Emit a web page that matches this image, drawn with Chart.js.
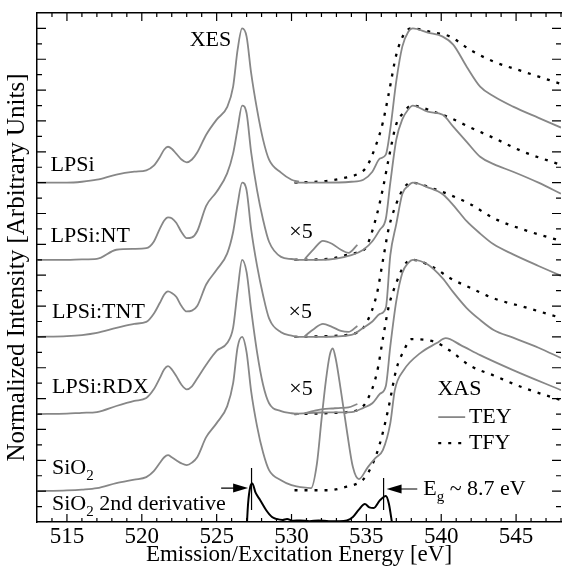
<!DOCTYPE html>
<html>
<head>
<meta charset="utf-8">
<script src="https://cdn.jsdelivr.net/npm/chart.js@4.4.1/dist/chart.umd.min.js"></script>
<style>
  html, body { margin: 0; padding: 0; background: #fff; }
  canvas { display: block; }
</style>
</head>
<body>
<canvas id="spectra" width="562" height="574"></canvas>
<script>
// samples, stacked from top to bottom, each shifted by 5 units
var samples = ['LPSi', 'LPSi:NT', 'LPSi:TNT', 'LPSi:RDX', 'SiO2'];
var offsets = [22, 17, 12, 7, 2];

// XES (emission), normalized so the main peak is 10
var xesEnergy = [513, 515, 516, 517, 518.3, 519.5, 520.3, 520.8, 521.2, 521.5, 521.75, 522.0, 522.3,
                 522.65, 523.0, 523.35, 523.7, 524.3, 525.0, 525.7, 526.1, 526.4, 526.7, 527.0,
                 527.3, 527.7, 528.1, 528.5, 529.3, 530.0, 530.5];
var xesLPSi = [0, 0, 0.06, 0.19, 0.52, 0.71, 0.8, 1.1, 1.65, 2.15, 2.33, 2.2, 1.88,
               1.5, 1.32, 1.5, 1.95, 3.11, 4.09, 4.9, 6.23, 8.62, 10, 9.47,
               7.13, 4.73, 2.79, 1.49, 0.65, 0.19, 0.06];
var xesNT = [0, 0, 0.03, 0.06, 0.65, 0.71, 0.75, 1.17, 2.01, 2.55, 2.75, 2.7, 2.4,
             1.8, 1.4, 1.45, 1.85, 3.5, 4.41, 5.6, 6.9, 8.5, 10, 9.5,
             7.0, 4.5, 2.6, 1.17, 0.19, 0.05, 0];
var xesTNT = [0, 0.05, 0.12, 0.26, 0.58, 0.85, 0.97, 1.5, 2.2, 2.75, 2.95, 2.85, 2.6,
              2.0, 1.65, 1.7, 2.0, 3.4, 4.35, 5.4, 6.8, 8.6, 10, 9.5,
              7.0, 4.6, 2.7, 1.2, 0.3, 0.08, 0];
var xesRDX = [0, 0.03, 0.08, 0.13, 0.52, 0.85, 1.04, 1.6, 2.33, 2.9, 3.1, 2.9, 2.46,
              1.9, 1.6, 1.8, 2.3, 3.2, 4.1, 4.6, 5.6, 8.0, 10, 9.2,
              6.8, 4.0, 1.9, 0.7, 0.19, 0.05, 0];
var xesSiO2 = [0, 0.05, 0.1, 0.19, 0.52, 0.75, 0.91, 1.3, 1.82, 2.2, 2.33, 2.2, 2.01,
               1.8, 1.69, 1.85, 2.2, 3.5, 4.41, 5.5, 7.0, 9.34, 10, 9.0,
               6.5, 4.2, 2.5, 1.36, 0.71, 0.39, 0.28];

// XAS total electron yield
var teyEnergy = [530.2, 532.0, 534.0, 534.8, 535.4, 535.9, 536.3, 536.6, 537.0, 537.4, 537.8,
                 538.1, 539.1, 540.1, 540.8, 541.7, 542.6, 543.5, 544.8, 546.5, 548];
var teyLPSi = [0, 0, 0.06, 0.19, 0.71, 1.56, 1.82, 3.5, 6.6, 8.82, 9.79,
               10, 9.73, 9.47, 8.95, 7.52, 6.23, 5.6, 4.93, 4.2, 3.57];
var teyNT = [0, 0, 0.3, 0.65, 1.2, 1.95, 2.66, 5.0, 7.8, 9.1, 9.75,
             10, 9.6, 9.4, 8.63, 7.65, 6.68, 6.2, 5.71, 5.0, 4.28];
var teyTNT = [0, 0, 0.13, 0.6, 1.0, 1.49, 1.88, 5.3, 7.33, 9.27, 9.8,
              10, 9.7, 9.25, 8.55, 7.5, 6.7, 6.0, 5.35, 4.6, 3.96];
var teyRDX = [0, 0.1, 0.13, 0.4, 0.7, 1.3, 1.82, 4.4, 7.33, 9.14, 9.8,
              10, 9.7, 8.8, 7.9, 6.87, 6.1, 5.45, 4.95, 4.3, 3.63];
var teySiO2Energy = [530.5, 531.3, 531.7, 532.0, 532.3, 532.55, 532.75, 532.95, 533.3, 533.7, 534.1, 534.5,
                     535.1, 535.6, 536.1, 536.6, 536.9, 537.5, 538.6, 539.7, 540.3, 541.3, 542.6, 544.8, 548];
var teySiO2 = [0.28, 0.19, 1.8, 4.6, 7.2, 8.8, 9.25, 8.6, 6.5, 3.9, 1.56, 0.78,
               1.56, 2.14, 2.66, 4.41, 6.55, 7.85, 8.95, 9.6, 9.92, 9.47, 8.82, 7.85, 6.55];

// XAS total fluorescence yield
var tfyEnergy = [530.2, 532.5, 533.7, 534.5, 535.0, 535.7, 536.1, 536.5, 537.0, 537.5, 538.0,
                 539.5, 540.6, 541.9, 543.5, 545.5, 548];
var tfyLPSi = [0, 0.13, 0.35, 0.6, 1.0, 2.59, 3.9, 5.8, 8.3, 9.6, 10, 9.73, 9.47, 8.63, 7.85, 7.2, 6.4];
var tfyNT = [0, 0.06, 0.32, 0.52, 0.84, 2.92, 4.6, 6.6, 8.8, 9.55, 10, 9.6, 9.2, 8.6, 7.9, 7.0, 6.15];
var tfyTNT = [0, 0.06, 0.13, 0.35, 0.9, 2.79, 4.93, 7.07, 8.63, 9.66, 10, 9.6, 9.2, 8.63, 7.7, 6.95, 6.23];
var tfyRDX = [0, 0.06, 0.13, 0.3, 0.8, 2.66, 4.86, 7.0, 8.5, 9.6, 10, 9.5, 8.8, 8.2, 7.5, 6.95, 6.23];
var tfySiO2 = [0.06, 0.06, 0.3, 0.55, 1.0, 2.46, 3.8, 5.5, 7.9, 9.1, 9.85, 9.7, 9.1, 8.15, 7.5, 6.7, 5.9];

// pre-edge region magnified x5
var x5Energy = [530.9, 531.5, 532.1, 532.7, 533.3, 533.8, 534.4];
var x5NT = [0.06, 0.71, 1.23, 1.04, 0.65, 0.45, 0.97];
var x5TNT = [0.06, 0.52, 0.84, 0.65, 0.39, 0.32, 0.71];
var x5RDX = [0.06, 0.2, 0.32, 0.36, 0.4, 0.43, 0.65];

// SiO2 second derivative (not shifted)
var derivEnergy = [527.0, 527.1, 527.25, 527.38, 527.6, 527.9, 528.3, 528.7, 529.0, 529.4, 529.7, 530.1,
                   530.6, 531.2, 531.8, 532.5, 533.2, 533.7, 534.1, 534.5, 534.9, 535.2, 535.5, 535.9,
                   536.3, 536.5, 536.75];
var derivSiO2 = [-0.5, 1.2, 2.3, 2.5, 1.9, 1.43, 0.78, 0.32, 0.2, 0.13, 0.2, 0.08,
                 0.1, 0.05, 0.1, 0.05, 0.05, 0.1, 0.32, 0.8, 1.17, 0.95, 0.91, 1.4,
                 1.69, 1.2, -0.3];

var xTicks = [515, 520, 525, 530, 535, 540, 545];

var GRAY = '#878787';
var SERIF = '"Liberation Serif", "Times New Roman", serif';

function pts(xs, ys, off) {
    return xs.map(function(x, i) { return { x: x, y: ys[i] + (off || 0) }; });
}

function grayLine(xs, ys, off) {
    return { data: pts(xs, ys, off), borderColor: GRAY, borderWidth: 1.8,
             cubicInterpolationMode: 'monotone' };
}

function dotLine(xs, ys, off) {
    return { data: pts(xs, ys, off), borderColor: '#000', borderWidth: 2.3,
             borderDash: [3, 7], borderCapStyle: 'butt', cubicInterpolationMode: 'monotone' };
}

var xes = [xesLPSi, xesNT, xesTNT, xesRDX, xesSiO2];
var tey = [teyLPSi, teyNT, teyTNT, teyRDX];
var tfy = [tfyLPSi, tfyNT, tfyTNT, tfyRDX, tfySiO2];

var datasets = [];
xes.forEach(function(s, i) { datasets.push(grayLine(xesEnergy, s, offsets[i])); });
tey.forEach(function(s, i) { datasets.push(grayLine(teyEnergy, s, offsets[i])); });
datasets.push(grayLine(teySiO2Energy, teySiO2, offsets[4]));
datasets.push(grayLine(x5Energy, x5NT, offsets[1]));
datasets.push(grayLine(x5Energy, x5TNT, offsets[2]));
datasets.push(grayLine(x5Energy, x5RDX, offsets[3]));
tfy.forEach(function(s, i) { datasets.push(dotLine(tfyEnergy, s, offsets[i])); });
datasets.push({ data: pts(derivEnergy, derivSiO2, 0), borderColor: '#000', borderWidth: 2,
                cubicInterpolationMode: 'monotone' });

// ticks pointing inward, labels, arrows and the XAS key
var decorations = {
    id: 'decorations',
    afterDatasetsDraw: function(chart) {
        var c = chart.ctx, xs = chart.scales.x, ys = chart.scales.y, a = chart.chartArea;
        var X = function(v) { return xs.getPixelForValue(v); };
        var Y = function(v) { return ys.getPixelForValue(v); };
        c.save();
        c.strokeStyle = '#000';
        c.lineWidth = 1.2;
        c.beginPath();
        for (var e = 514; e <= 548; e++) {
            var len = (e % 5 === 0) ? 8 : 4;
            c.moveTo(X(e), a.bottom); c.lineTo(X(e), a.bottom - len);
            c.moveTo(X(e), a.top); c.lineTo(X(e), a.top + len);
        }
        for (var k = 1; k < 33; k++) {
            var l2 = (k % 2 === 0) ? 9 : 5;
            c.moveTo(a.left, Y(k)); c.lineTo(a.left + l2, Y(k));
            c.moveTo(a.right, Y(k)); c.lineTo(a.right - l2, Y(k));
        }
        c.stroke();

        c.fillStyle = '#000';
        c.textBaseline = 'middle';
        c.textAlign = 'left';
        var big = '22px ' + SERIF, small = '15px ' + SERIF;
        function txt(s, x, y) { c.font = big; c.fillText(s, X(x), Y(y)); }
        // text with one subscript: before, sub, after
        function subTxt(before, sub, after, x, y) {
            var px = X(x), py = Y(y);
            c.font = big; c.fillText(before, px, py);
            px += c.measureText(before).width;
            c.font = small; c.fillText(sub, px, py + 8);
            px += c.measureText(sub).width;
            c.font = big; c.fillText(after, px, py);
        }
        txt('XES', 523.2, 31.25);
        txt(samples[0], 513.9, 23.1);
        txt(samples[1], 513.9, 18.5);
        txt(samples[2], 514.0, 13.6);
        txt(samples[3], 514.0, 8.75);
        subTxt('SiO', '2', '', 514.0, 3.5);
        subTxt('SiO', '2', ' 2nd derivative', 514.0, 1.15);
        txt('\u00d75', 529.85, 18.8);
        txt('\u00d75', 529.8, 13.6);
        txt('\u00d75', 529.85, 8.6);
        subTxt('E', 'g', ' ~ 8.7 eV', 538.8, 2.15);

        // key
        txt('XAS', 539.75, 8.63);
        txt('TEY', 541.85, 6.8);
        txt('TFY', 541.85, 5.12);
        c.lineWidth = 1.8; c.strokeStyle = GRAY;
        c.beginPath(); c.moveTo(X(539.8), Y(6.8)); c.lineTo(X(541.6), Y(6.8)); c.stroke();
        c.lineWidth = 2.3; c.strokeStyle = '#000'; c.setLineDash([3, 7]);
        c.beginPath(); c.moveTo(X(539.8), Y(5.12)); c.lineTo(X(541.6), Y(5.12)); c.stroke();
        c.setLineDash([]);

        // band edges and arrows
        c.lineWidth = 1.2;
        c.beginPath();
        c.moveTo(X(527.33), Y(0.78)); c.lineTo(X(527.33), Y(3.5));
        c.moveTo(X(536.15), Y(0.78)); c.lineTo(X(536.15), Y(2.85));
        c.moveTo(X(525.3), Y(2.2)); c.lineTo(X(526.3), Y(2.2));
        c.moveTo(X(537.2), Y(2.14)); c.lineTo(X(538.4), Y(2.14));
        c.stroke();
        function head(tipX, y, dir) {
            var tx = X(tipX), ty = Y(y);
            c.beginPath();
            c.moveTo(tx, ty);
            c.lineTo(tx - dir * 15, ty - 4.5);
            c.lineTo(tx - dir * 15, ty + 4.5);
            c.closePath(); c.fill();
        }
        head(527.1, 2.2, 1);
        head(536.35, 2.14, -1);
        c.restore();
    }
};

var ctx = document.getElementById('spectra').getContext('2d');
window.spectraChart = new Chart(ctx, {
    type: 'line',
    data: { datasets: datasets },
    options: {
        responsive: false,
        animation: false,
        layout: { padding: 0 },
        plugins: { legend: { display: false }, tooltip: { enabled: false } },
        elements: { point: { radius: 0 }, line: { fill: false } },
        scales: {
            x: {
                type: 'linear', position: 'bottom', min: 513, max: 548,
                afterFit: function(s) { s.height = 52; },
                grid: { display: false, drawTicks: false },
                border: { display: true, color: '#000', width: 1.5 },
                afterBuildTicks: function(s) { s.ticks = xTicks.map(function(v) { return { value: v }; }); },
                ticks: { color: '#000', padding: 1, maxRotation: 0, autoSkip: false,
                         font: { family: SERIF, size: 23 } },
                title: { display: true, text: 'Emission/Excitation Energy [eV]', color: '#000',
                         font: { family: SERIF, size: 23 }, padding: { top: 0, bottom: 5 } }
            },
            xTop: {
                type: 'linear', position: 'top', min: 513, max: 548,
                afterFit: function(s) { s.height = 13; },
                grid: { display: false, drawTicks: false },
                border: { display: true, color: '#000', width: 1.5 },
                ticks: { display: false }
            },
            y: {
                type: 'linear', position: 'left', min: 0, max: 33,
                afterFit: function(s) { s.width = 37; },
                grid: { display: false, drawTicks: false },
                border: { display: true, color: '#000', width: 1.5 },
                ticks: { display: false },
                title: { display: true, text: 'Normalized Intensity [Arbitrary Units]', color: '#000',
                         font: { family: SERIF, size: 25 }, padding: { top: 2, bottom: 0 } }
            },
            yRight: {
                type: 'linear', position: 'right', min: 0, max: 33,
                afterFit: function(s) { s.width = 1; },
                grid: { display: false, drawTicks: false },
                border: { display: false },
                ticks: { display: false }
            }
        }
    },
    plugins: [decorations]
});
</script>
</body>
</html>
